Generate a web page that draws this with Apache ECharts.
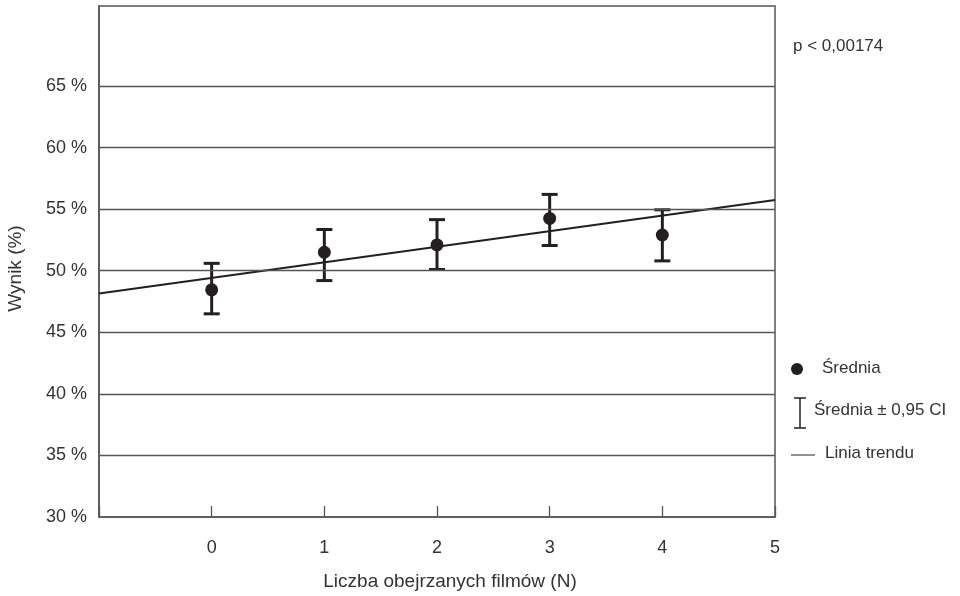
<!DOCTYPE html>
<html>
<head>
<meta charset="utf-8">
<script src="https://cdn.jsdelivr.net/npm/echarts@6/dist/echarts.min.js"></script>
<style>
  html, body { margin: 0; padding: 0; background: #fff; }
  #chart { width: 960px; height: 596px; }
</style>
</head>
<body>
<div id="chart"></div>
<script>
// liczba obejrzanych filmów
const films = [0, 1, 2, 3, 4];
// średni wynik (%)
const means = [48.45, 51.5, 52.1, 54.25, 52.9];
// przedział ufności 0,95
const ciLow = [46.5, 49.2, 50.1, 52.05, 50.8];
const ciHigh = [50.6, 53.35, 54.15, 56.2, 54.95];
// linia trendu (końce)
const trendX = [-1, 5];
const trendY = [48.15, 55.75];
const gridValues = [35, 40, 45, 50, 55, 60, 65];

const ink = '#231f20';
const font = "'Liberation Sans', Arial, sans-serif";

const chart = echarts.init(document.getElementById('chart'));

chart.setOption({
  backgroundColor: '#fff',
  animation: false,
  textStyle: { fontFamily: font, color: '#333' },
  grid: {
    left: 99, right: 185, top: 6, bottom: 79,
    outerBoundsMode: 'none',
    show: true, borderColor: '#555', borderWidth: 1.5, backgroundColor: 'transparent'
  },
  xAxis: {
    type: 'value',
    min: -1, max: 5, interval: 1,
    name: 'Liczba obejrzanych filmów (N)',
    nameLocation: 'middle',
    nameGap: 55,
    nameTextStyle: { fontSize: 19, color: '#333', fontFamily: font, padding: [0, 0, 0, 26] },
    axisLine: { onZero: false, lineStyle: { color: '#555', width: 1.5 } },
    axisTick: { show: true, inside: true, length: 11, lineStyle: { color: '#555', width: 1.3 } },
    axisLabel: {
      margin: 22, fontSize: 18, color: '#333',
      formatter: v => (v < 0 ? '' : String(v))
    },
    splitLine: { show: false }
  },
  yAxis: {
    type: 'value',
    min: 30, max: 71.5, interval: 5,
    name: 'Wynik (%)',
    nameLocation: 'middle',
    nameGap: 74,
    nameTextStyle: { fontSize: 19, color: '#333', fontFamily: font, padding: [0, 14, 0, 0] },
    axisLine: { show: true, onZero: false, lineStyle: { color: '#555', width: 1.5 } },
    axisTick: { show: false },
    axisLabel: {
      margin: 12, fontSize: 18, color: '#333',
      formatter: v => (v <= 65 ? v + ' %' : '')
    },
    splitLine: { show: false }
  },
  series: [
    {
      name: 'Linia trendu',
      type: 'line',
      data: trendX.map((x, i) => [x, trendY[i]]),
      symbol: 'none',
      lineStyle: { color: ink, width: 2 },
      z: 3,
      markLine: {
        silent: true,
        symbol: 'none',
        label: { show: false },
        lineStyle: { color: '#555', width: 1.4, type: 'solid' },
        data: gridValues.map(v => ({ yAxis: v }))
      }
    },
    {
      name: 'Średnia ± 0,95 CI',
      type: 'custom',
      data: films.map((x, i) => [x, ciLow[i], ciHigh[i]]),
      z: 4,
      renderItem: function (params, api) {
        const x = api.value(0);
        const lo = api.coord([x, api.value(1)]);
        const hi = api.coord([x, api.value(2)]);
        const hw = 8;
        const style = { stroke: ink, lineWidth: 3 };
        return {
          type: 'group',
          children: [
            { type: 'line', shape: { x1: lo[0], y1: lo[1], x2: hi[0], y2: hi[1] }, style: style },
            { type: 'line', shape: { x1: lo[0] - hw, y1: lo[1], x2: lo[0] + hw, y2: lo[1] }, style: style },
            { type: 'line', shape: { x1: hi[0] - hw, y1: hi[1], x2: hi[0] + hw, y2: hi[1] }, style: style }
          ]
        };
      }
    },
    {
      name: 'Średnia',
      type: 'scatter',
      data: films.map((x, i) => [x, means[i]]),
      symbol: 'circle',
      symbolSize: 13,
      itemStyle: { color: ink, opacity: 1 },
      z: 5
    }
  ],
  graphic: [
    { type: 'text', left: 793, top: 38, style: { text: 'p < 0,00174', font: '17px ' + font, fill: '#333' } },
    // legenda
    { type: 'circle', shape: { cx: 797, cy: 369, r: 6 }, style: { fill: ink } },
    { type: 'text', left: 822, top: 360, style: { text: 'Średnia', font: '17px ' + font, fill: '#333' } },
    { type: 'line', shape: { x1: 800, y1: 398, x2: 800, y2: 428 }, style: { stroke: ink, lineWidth: 1.5 } },
    { type: 'line', shape: { x1: 794, y1: 398, x2: 806, y2: 398 }, style: { stroke: ink, lineWidth: 1.5 } },
    { type: 'line', shape: { x1: 794, y1: 428, x2: 806, y2: 428 }, style: { stroke: ink, lineWidth: 1.5 } },
    { type: 'text', left: 814, top: 402, style: { text: 'Średnia ± 0,95 CI', font: '17px ' + font, fill: '#333' } },
    { type: 'line', shape: { x1: 791, y1: 455, x2: 815, y2: 455 }, style: { stroke: '#555', lineWidth: 1.3 } },
    { type: 'text', left: 825, top: 445, style: { text: 'Linia trendu', font: '17px ' + font, fill: '#333' } }
  ]
});
</script>
</body>
</html>
